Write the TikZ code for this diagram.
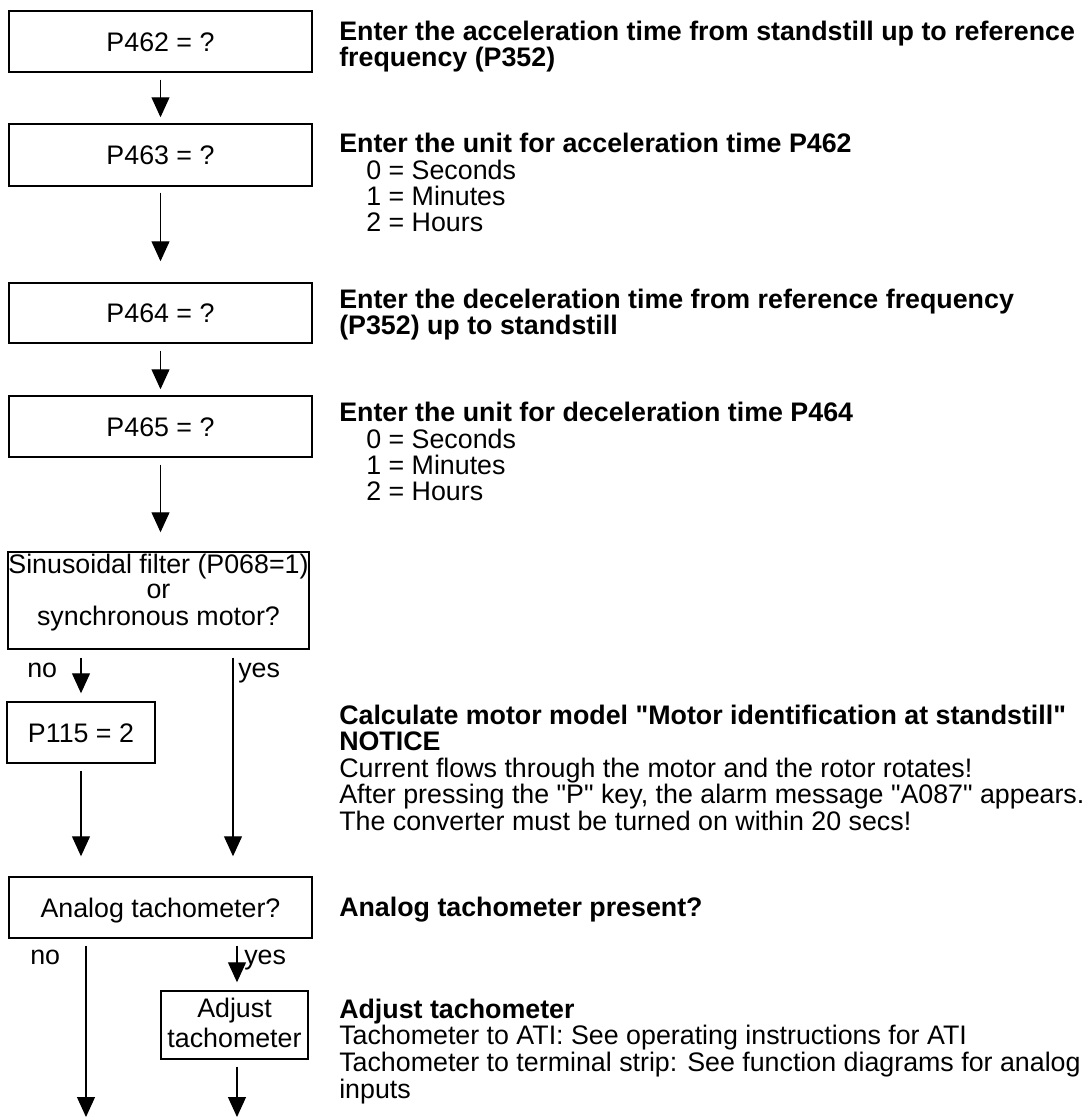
\documentclass[tikz,border=0pt]{standalone}
\usepackage{fontspec}
\setmainfont{Liberation Sans}
\usetikzlibrary{arrows.meta}
\newcommand{\fz}{\fontsize{20.1pt}{22pt}\selectfont}
\newcommand{\qq}{\textquotedbl}
\begin{document}
\begin{tikzpicture}[x=0.75pt,y=-0.75pt,
  box/.style={draw, line width=1.1pt, inner sep=0pt, font=\fz, text height=14.4pt, text depth=0pt},
  arr/.style={line width=0.9pt, -{Triangle[width=13.5pt,length=15pt]}},
  txt/.style={anchor=base west, inner sep=0pt, font=\fz},
  btxt/.style={anchor=base west, inner sep=0pt, font=\fz\bfseries},
  ctxt/.style={anchor=base, inner sep=0pt, font=\fz}
]
\useasboundingbox (0,0) rectangle (1088,1117);

% boxes
\node[box, minimum width=303*0.75pt, minimum height=61*0.75pt] (p462) at (160.5,41.5) {P462 = ?};
\node[box, minimum width=303*0.75pt, minimum height=62*0.75pt] (p463) at (160.5,155) {P463 = ?};
\node[box, minimum width=303*0.75pt, minimum height=60*0.75pt] (p464) at (160.5,313) {P464 = ?};
\node[box, minimum width=303*0.75pt, minimum height=61*0.75pt] (p465) at (160.5,426.5) {P465 = ?};
\node[box, minimum width=301*0.75pt, minimum height=97*0.75pt] (sinus) at (158.5,600.5) {};
\node[ctxt] (s1) at (158.5,573) {Sinusoidal filter (P068=1)};
\node[ctxt] (s2) at (158.5,598) {or};
\node[ctxt] (s3) at (158.5,625) {synchronous motor?};
\node[box, minimum width=148*0.75pt, minimum height=61*0.75pt] (p115) at (81,732.5) {P115 = 2};
\node[box, minimum width=303*0.75pt, minimum height=61*0.75pt] (analog) at (160.5,907.5) {Analog tachometer?};
\node[box, minimum width=147*0.75pt, minimum height=68*0.75pt] (adjust) at (234.5,1025) {};
\node[ctxt] (a1) at (234.5,1017) {Adjust};
\node[ctxt] (a2) at (234.5,1047) {tachometer};

% labels
\node[txt] (no1) at (27,677) {no};
\node[txt] (yes1) at (238,677) {yes};
\node[txt] (no2) at (30,964) {no};
\node[txt] (yes2) at (244,964) {yes};

% connectors
\coordinate (yesx1) at (233,0);
\coordinate (nox2) at (86,0);
\coordinate (yesx2) at (237,0);
\coordinate (end1) at (86,1117);
\coordinate (end2) at (237,1117);
\draw[arr, shorten <=7*0.75pt, shorten >=6*0.75pt] (p462.south) -- (p463.north);
\draw[arr, shorten <=6*0.75pt, shorten >=21*0.75pt] (p463.south) -- (p464.north);
\draw[arr, shorten <=7*0.75pt, shorten >=6*0.75pt] (p464.south) -- (p465.north);
\draw[arr, shorten <=7*0.75pt, shorten >=19*0.75pt] (p465.south) -- (sinus.north -| p465.south);
\draw[arr, shorten <=8*0.75pt, shorten >=8*0.75pt] (sinus.south -| p115.north) -- (p115.north);
\draw[arr, shorten <=8*0.75pt, shorten >=20*0.75pt] (sinus.south -| yesx1) -- (analog.north -| yesx1);
\draw[arr, shorten <=7*0.75pt, shorten >=20*0.75pt] (p115.south) -- (p115.south |- analog.north);
\draw[arr, shorten <=7*0.75pt] (analog.south -| nox2) -- (end1);
\draw[arr, shorten <=7*0.75pt, shorten >=8*0.75pt] (analog.south -| yesx2) -- (adjust.north -| yesx2);
\draw[arr, shorten <=7*0.75pt] (adjust.south -| yesx2) -- (end2);

% right column texts
\node[btxt] (t1a) at (339,40) {Enter the acceleration time from standstill up to reference};
\node[btxt] (t1b) at (339,66) {frequency (P352)};
\node[btxt] (t2a) at (339,152) {Enter the unit for acceleration time P462};
\node[txt] (t2b) at (366,179) {0 = Seconds};
\node[txt] (t2c) at (366,205) {1 = Minutes};
\node[txt] (t2d) at (366,231) {2 = Hours};
\node[btxt] (t3a) at (339,308) {Enter the deceleration time from reference frequency};
\node[btxt] (t3b) at (339,334) {(P352) up to standstill};
\node[btxt] (t4a) at (339,421) {Enter the unit for deceleration time P464};
\node[txt] (t4b) at (366,448) {0 = Seconds};
\node[txt] (t4c) at (366,474) {1 = Minutes};
\node[txt] (t4d) at (366,500) {2 = Hours};
\node[btxt] (t5a) at (339,724) {Calculate motor model \qq Motor identification at standstill\qq};
\node[btxt] (t5b) at (339,750) {NOTICE};
\node[txt] (t5c) at (339,777) {Current flows through the motor and the rotor rotates!};
\node[txt] (t5d) at (339,803) {After pressing the \qq P\qq{} key, the alarm message \qq A087\qq{} appears.};
\node[txt] (t5e) at (339,830) {The converter must be turned on within 20 secs!};
\node[btxt] (t6a) at (339,916) {Analog tachometer present?};
\node[btxt] (t7a) at (339,1018) {Adjust tachometer};
\node[txt] (t7b) at (339,1044) {Tachometer to ATI: See operating instructions for ATI};
\node[txt] (t7c) at (339,1071) {Tachometer to terminal strip: See function diagrams for analog};
\node[txt] (t7d) at (339,1098) {inputs};
\end{tikzpicture}
\end{document}
